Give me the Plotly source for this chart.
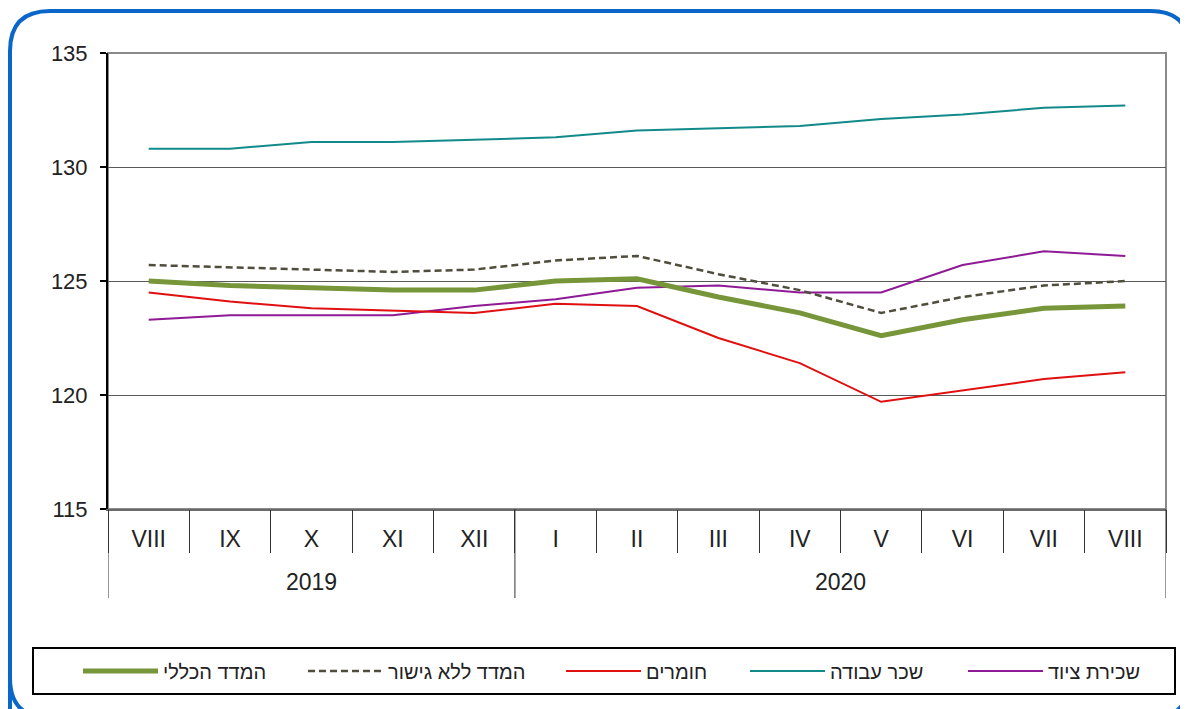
import plotly.graph_objects as go

years = ["2019"] * 5 + ["2020"] * 8
months = ["VIII", "IX", "X", "XI", "XII", "I", "II", "III", "IV", "V", "VI", "VII", "VIII"]

total_index = [125.0, 124.8, 124.7, 124.6, 124.6, 125.0, 125.1, 124.3, 123.6, 122.6, 123.3, 123.8, 123.9]
no_bridge = [125.7, 125.6, 125.5, 125.4, 125.5, 125.9, 126.1, 125.3, 124.6, 123.6, 124.3, 124.8, 125.0]
materials = [124.5, 124.1, 123.8, 123.7, 123.6, 124.0, 123.9, 122.5, 121.4, 119.7, 120.2, 120.7, 121.0]
labor = [130.8, 130.8, 131.1, 131.1, 131.2, 131.3, 131.6, 131.7, 131.8, 132.1, 132.3, 132.6, 132.7]
equipment = [123.3, 123.5, 123.5, 123.5, 123.9, 124.2, 124.7, 124.8, 124.5, 124.5, 125.7, 126.3, 126.1]

names = ["המדד הכללי", "המדד ללא גישור", "חומרים", "שכר עבודה", "שכירת ציוד"]

# page has an 8px body margin; figure sized so plot area lands at page 108..1166 x 53..509
W, H = 1180, 701
L, T = 100, 45
PW, PH = 1058, 456
R, B = W - L - PW, H - T - PH
PX0, PY1 = 108, 509  # page coords of plot-area left / bottom


def px(x):
    return (x - PX0) / PW


def py(y):
    return (PY1 - y) / PH


idx = list(range(len(months)))
boundaries = [i - 0.5 for i in idx] + [idx[-1] + 0.5]
FONT = "Liberation Sans, Arial, DejaVu Sans, sans-serif"

fig = go.Figure()
series = [
    (equipment, names[4], dict(color="#8E1A96", width=2), "legend5"),
    (labor, names[3], dict(color="#128A8A", width=2), "legend4"),
    (materials, names[2], dict(color="#E01010", width=2), "legend3"),
    (no_bridge, names[1], dict(color="#4F4D3B", width=2.5, dash="7px,4px"), "legend2"),
    (total_index, names[0], dict(color="#77963A", width=5), "legend"),
]
for ys, nm, ln, lg in series:
    fig.add_trace(go.Scatter(x=idx, y=ys, name=nm, mode="lines", line=ln, legend=lg))
# invisible helper trace for the boundary-tick axis
fig.add_trace(go.Scatter(x=idx, y=total_index, xaxis="x2", mode="lines",
                         line=dict(width=0), hoverinfo="skip", showlegend=False))

leg_x = [85, 310, 568, 752, 970]
leg_keys = ["legend", "legend2", "legend3", "legend4", "legend5"]
legends = {}
for k, lx in zip(leg_keys, leg_x):
    legends[k] = dict(
        x=px(lx - 7), y=py(671), xanchor="left", yanchor="middle",
        orientation="h", bgcolor="rgba(0,0,0,0)", borderwidth=0,
        font=dict(family=FONT, size=20, color="#222"), itemwidth=75,
    )

# rounded blue frame
x0, x1, y0, y1, r = 10, 1190, 11, 718, 40
path = (
    f"M {px(x0)},{py(y1)} L {px(x0)},{py(y0 + r)} "
    f"Q {px(x0)},{py(y0)} {px(x0 + r)},{py(y0)} "
    f"L {px(x1 - r)},{py(y0)} Q {px(x1)},{py(y0)} {px(x1)},{py(y0 + r)} "
    f"L {px(x1)},{py(y1 - r)} Q {px(x1)},{py(y1)} {px(x1 - r)},{py(y1)} "
    f"L {px(x0 + r)},{py(y1)} Q {px(x0)},{py(y1)} {px(x0)},{py(y1 - r)} Z"
)
shapes = [
    dict(type="path", xref="paper", yref="paper", path=path,
         line=dict(color="#0A66C8", width=4), layer="below"),
    dict(type="rect", xref="paper", yref="paper", x0=0, x1=1, y0=0, y1=1,
         line=dict(color="#8A8A8A", width=2), layer="below"),
    dict(type="rect", xref="paper", yref="paper", x0=px(33), x1=px(1175), y0=py(648), y1=py(694),
         line=dict(color="#000000", width=2), layer="below"),
]

# year group dividers and labels
annotations = []
uniq_years = []
for yv in years:
    if yv not in uniq_years:
        uniq_years.append(yv)
div_pos = [boundaries[0]]
for yv in uniq_years:
    members = [i for i, v in enumerate(years) if v == yv]
    div_pos.append(members[-1] + 0.5)
    annotations.append(dict(x=(members[0] + members[-1]) / 2, y=py(582), xref="x", yref="paper",
                            text=yv, showarrow=False, yanchor="middle",
                            font=dict(family=FONT, size=23, color="#222")))
for d in div_pos:
    shapes.append(dict(type="line", xref="x", yref="paper", x0=d, x1=d, y0=0, y1=py(598),
                       line=dict(color="#333", width=1)))

fig.update_layout(
    width=W, height=H,
    margin=dict(l=L, r=R, t=T, b=B),
    paper_bgcolor="white", plot_bgcolor="white",
    font=dict(family=FONT, size=22, color="#222"),
    shapes=shapes, annotations=annotations,
    showlegend=True,
    **legends,
    xaxis=dict(
        range=[boundaries[0], boundaries[-1]], tickvals=idx, ticktext=months,
        ticks="", ticklabelstandoff=8, showgrid=False, zeroline=False,
        showline=True, linecolor="#6A6A6A", linewidth=2,
        tickfont=dict(size=23, color="#222"),
    ),
    xaxis2=dict(
        overlaying="x", anchor="y", side="bottom",
        range=[boundaries[0], boundaries[-1]], tickvals=boundaries,
        ticktext=[""] * len(boundaries), ticks="outside", ticklen=43,
        tickcolor="#333", tickwidth=1, showgrid=False, zeroline=False, showline=False,
    ),
    yaxis=dict(
        range=[115, 135], dtick=5, tick0=115,
        showgrid=True, gridcolor="#5A5A5A", gridwidth=1,
        showline=True, linecolor="#000", linewidth=2,
        ticks="outside", ticklen=6, tickcolor="#000", tickwidth=2,
        ticklabelstandoff=8,
        tickfont=dict(size=22, color="#222"), zeroline=False,
    ),
)

fig.write_html("out.html")
